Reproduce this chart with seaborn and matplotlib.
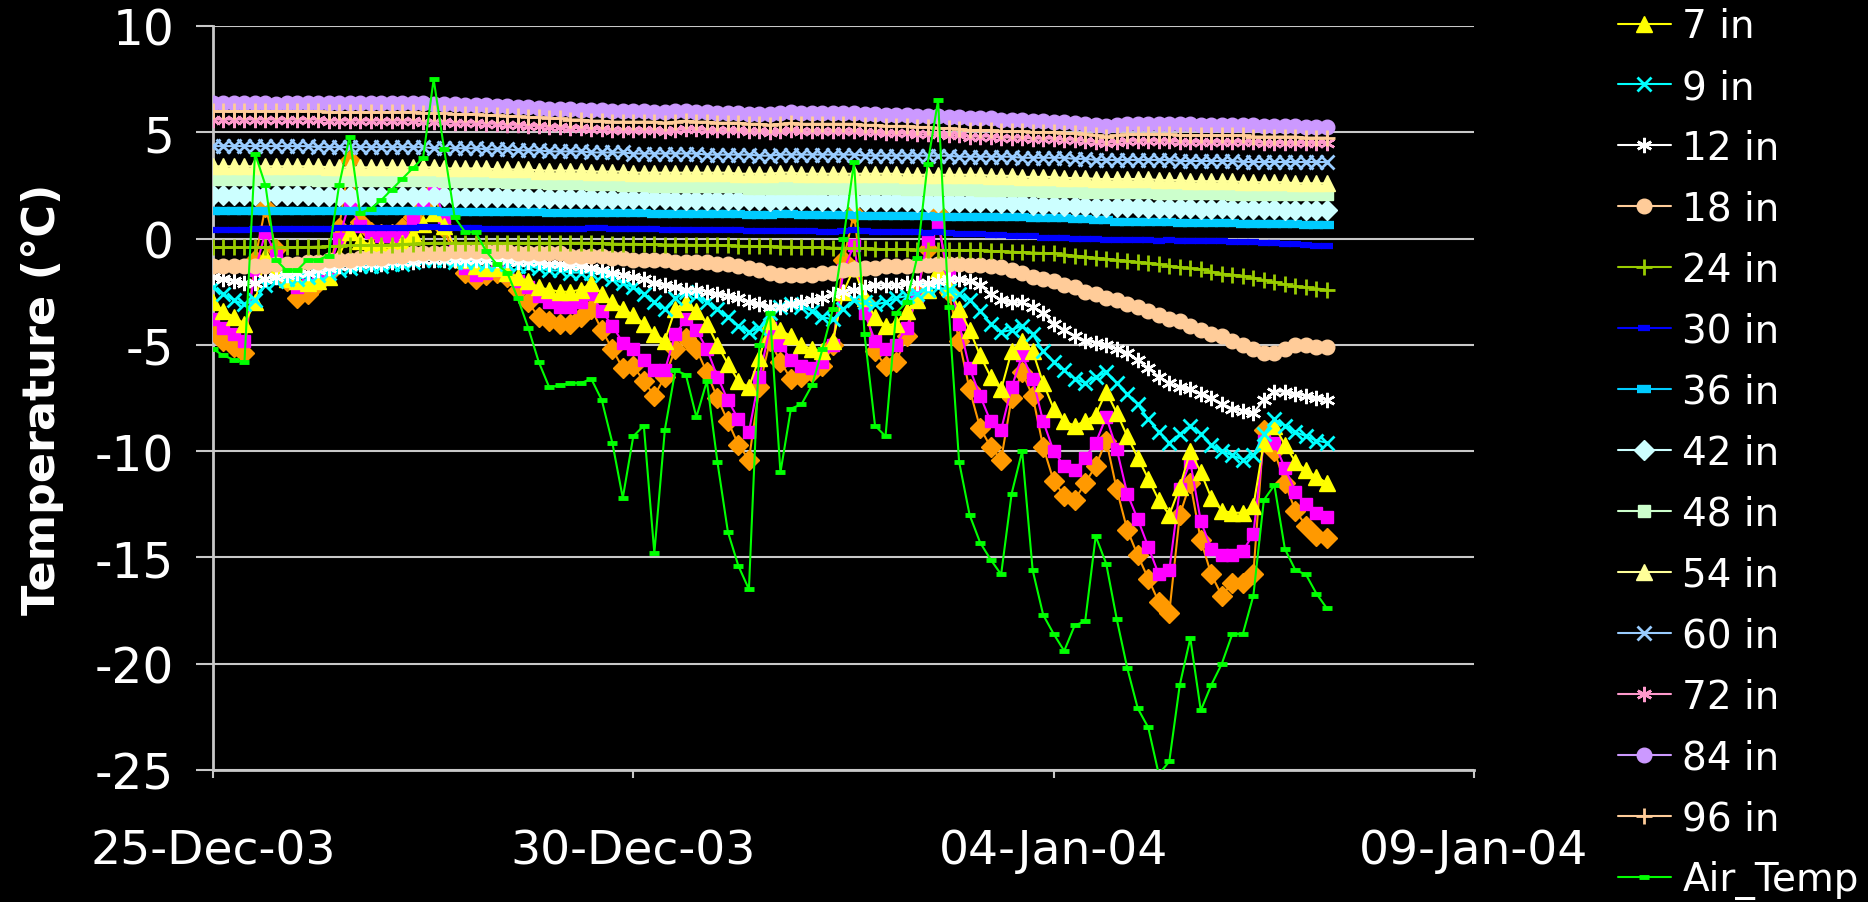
import pandas as pd
import matplotlib
matplotlib.use("Agg")
import matplotlib.pyplot as plt
import matplotlib.dates as mdates
import seaborn as sns

# 3-hourly readings, 25-Dec-03 00:00 to 07-Jan-04 06:00 (one row per day)
times = pd.date_range("2003-12-25 00:00", periods=107, freq="3h")

# top two depths (their legend entries are cut off above the picture)
d2_in = [
    -4.3, -4.8, -5.1, -5.4, -1.0, 1.5, -0.5, -2.0,
    -2.8, -2.6, -2.1, -1.6, 0.5, 3.7, 0.8, 0.3,
    0.2, 0.2, 0.5, 1.0, 1.6, 2.3, 0.5, -0.9,
    -1.6, -1.9, -1.7, -1.6, -1.8, -2.4, -3.0, -3.7,
    -3.9, -4.0, -4.0, -3.7, -3.3, -4.3, -5.2, -6.1,
    -6.0, -6.7, -7.4, -6.5, -5.2, -4.7, -5.2, -6.3,
    -7.5, -8.6, -9.7, -10.4, -7.0, -4.8, -5.8, -6.6,
    -6.5, -6.3, -6.0, -5.0, -1.0, 1.2, -3.0, -5.3,
    -6.0, -5.8, -4.6, -2.5, -0.5, 1.2, -2.5, -4.8,
    -7.1, -8.9, -9.8, -10.4, -7.5, -6.3, -7.4, -9.8,
    -11.4, -12.1, -12.3, -11.5, -10.7, -9.5, -11.8, -13.7,
    -14.9, -16.0, -17.1, -17.6, -13.0, -11.5, -14.2, -15.8,
    -16.8, -16.2, -16.2, -15.8, -9.0, -10.0, -11.5, -12.8,
    -13.5, -14.0, -14.1,
]
d4_in = [
    -3.8, -4.2, -4.5, -4.8, -1.5, 0.3, -0.8, -1.8,
    -2.3, -2.2, -1.9, -1.5, 0.0, 1.7, 0.6, 0.3,
    0.1, 0.1, 0.3, 0.9, 1.8, 2.4, 1.0, -0.6,
    -1.4, -1.7, -1.6, -1.5, -1.7, -2.0, -2.3, -2.7,
    -3.0, -3.2, -3.2, -3.0, -2.6, -3.4, -4.1, -4.9,
    -5.2, -5.7, -6.2, -6.2, -4.5, -3.8, -4.3, -5.2,
    -6.5, -7.6, -8.5, -9.1, -6.5, -4.2, -5.0, -5.7,
    -6.0, -6.1, -5.8, -5.0, -1.5, -0.3, -3.5, -4.8,
    -5.2, -5.0, -4.2, -2.7, 0.0, 0.7, -1.8, -4.0,
    -6.1, -7.4, -8.6, -9.0, -7.0, -5.5, -6.6, -8.6,
    -10.0, -10.7, -10.9, -10.3, -9.6, -8.4, -9.9, -12.0,
    -13.2, -14.5, -15.8, -15.6, -11.8, -10.5, -13.3, -14.6,
    -14.9, -14.9, -14.7, -13.9, -9.5, -9.6, -10.8, -11.9,
    -12.5, -12.9, -13.1,
]
d7_in = [
    -3.0, -3.4, -3.7, -4.0, -3.0, -0.8, -1.5, -1.9,
    -2.0, -2.1, -2.0, -1.8, -0.8, 0.3, -0.1, -0.3,
    -0.4, -0.4, -0.2, 0.2, 0.7, 1.2, 0.6, -0.4,
    -1.0, -1.3, -1.4, -1.4, -1.6, -1.8, -2.0, -2.3,
    -2.4, -2.5, -2.5, -2.4, -2.1, -2.6, -3.0, -3.3,
    -3.6, -4.0, -4.5, -4.8, -3.3, -3.0, -3.4, -4.0,
    -5.0, -5.9, -6.7, -7.0, -5.6, -3.9, -4.3, -4.6,
    -5.0, -5.2, -5.3, -4.8, -2.5, -1.4, -2.8, -3.7,
    -4.1, -4.0, -3.4, -2.9, -2.4, -1.5, -2.3, -3.3,
    -4.3, -5.5, -6.5, -7.1, -5.3, -4.8, -5.3, -6.8,
    -8.0, -8.6, -8.8, -8.6, -8.3, -7.2, -8.2, -9.3,
    -10.3, -11.3, -12.3, -13.0, -11.7, -10.0, -11.0, -12.2,
    -12.8, -12.9, -12.9, -12.6, -9.6, -8.8, -9.7, -10.5,
    -10.9, -11.2, -11.5,
]
d9_in = [
    -2.3, -2.6, -2.9, -3.1, -2.9, -2.2, -2.0, -1.9,
    -1.9, -1.8, -1.7, -1.6, -1.5, -1.4, -1.3, -1.3,
    -1.3, -1.2, -1.2, -1.1, -1.0, -1.0, -1.0, -1.1,
    -1.1, -1.1, -1.2, -1.2, -1.2, -1.3, -1.3, -1.4,
    -1.5, -1.5, -1.6, -1.6, -1.6, -1.7, -1.9, -2.1,
    -2.3, -2.6, -3.0, -3.3, -2.8, -2.5, -2.7, -3.0,
    -3.3, -3.7, -4.1, -4.4, -4.2, -3.5, -3.2, -3.1,
    -3.2, -3.4, -3.7, -3.8, -3.3, -2.9, -3.0, -3.1,
    -3.0, -2.8, -2.7, -2.6, -2.4, -2.3, -2.4, -2.6,
    -2.9, -3.4, -4.0, -4.4, -4.3, -4.1, -4.5, -5.3,
    -5.8, -6.2, -6.6, -6.8, -6.5, -6.3, -6.8, -7.3,
    -7.8, -8.5, -9.1, -9.6, -9.2, -8.8, -9.2, -9.7,
    -10.0, -10.2, -10.4, -10.2, -9.2, -8.5, -8.8, -9.1,
    -9.3, -9.5, -9.6,
]
d12_in = [
    -1.8, -1.9, -2.0, -2.1, -2.1, -1.9, -1.8, -1.7,
    -1.6, -1.6, -1.5, -1.4, -1.3, -1.3, -1.2, -1.2,
    -1.2, -1.1, -1.1, -1.1, -1.0, -1.0, -1.0, -1.0,
    -1.0, -1.0, -1.0, -1.0, -1.0, -1.1, -1.1, -1.1,
    -1.2, -1.2, -1.3, -1.3, -1.4, -1.5, -1.6, -1.7,
    -1.8, -1.9, -2.1, -2.2, -2.3, -2.4, -2.4, -2.5,
    -2.6, -2.7, -2.8, -3.0, -3.1, -3.2, -3.2, -3.1,
    -3.0, -2.9, -2.8, -2.6, -2.5, -2.4, -2.3, -2.2,
    -2.2, -2.2, -2.1, -2.1, -2.1, -2.0, -1.9, -1.9,
    -2.0, -2.2, -2.6, -2.9, -3.0, -3.0, -3.2, -3.5,
    -4.0, -4.3, -4.6, -4.8, -4.9, -5.0, -5.2, -5.4,
    -5.7, -6.1, -6.5, -6.8, -7.0, -7.1, -7.3, -7.5,
    -7.8, -8.0, -8.1, -8.2, -7.6, -7.2, -7.2, -7.3,
    -7.4, -7.5, -7.6,
]
d18_in = [
    -1.3, -1.3, -1.3, -1.3, -1.3, -1.3, -1.2, -1.2,
    -1.2, -1.1, -1.1, -1.0, -1.0, -1.0, -0.9, -0.9,
    -0.9, -0.8, -0.8, -0.7, -0.7, -0.7, -0.7, -0.6,
    -0.6, -0.6, -0.6, -0.6, -0.6, -0.7, -0.7, -0.7,
    -0.7, -0.7, -0.8, -0.8, -0.8, -0.8, -0.9, -0.9,
    -1.0, -1.0, -1.0, -1.0, -1.1, -1.1, -1.1, -1.1,
    -1.2, -1.2, -1.3, -1.4, -1.5, -1.6, -1.7, -1.7,
    -1.7, -1.7, -1.6, -1.6, -1.5, -1.45, -1.4, -1.4,
    -1.3, -1.3, -1.3, -1.25, -1.25, -1.2, -1.2, -1.2,
    -1.25, -1.25, -1.3, -1.35, -1.5, -1.6, -1.8, -1.9,
    -2.0, -2.2, -2.3, -2.5, -2.6, -2.8, -2.9, -3.1,
    -3.2, -3.4, -3.6, -3.8, -3.9, -4.1, -4.3, -4.5,
    -4.6, -4.8, -5.0, -5.2, -5.4, -5.4, -5.2, -5.0,
    -5.0, -5.1, -5.1,
]
d24_in = [
    -0.42, -0.42, -0.42, -0.42, -0.40, -0.40, -0.40, -0.40,
    -0.40, -0.40, -0.38, -0.36, -0.34, -0.32, -0.32, -0.30,
    -0.30, -0.28, -0.26, -0.24, -0.22, -0.20, -0.20, -0.20,
    -0.20, -0.20, -0.20, -0.20, -0.20, -0.20, -0.20, -0.20,
    -0.20, -0.20, -0.20, -0.20, -0.20, -0.22, -0.24, -0.25,
    -0.25, -0.26, -0.27, -0.28, -0.28, -0.29, -0.30, -0.30,
    -0.30, -0.32, -0.34, -0.35, -0.36, -0.37, -0.38, -0.39,
    -0.40, -0.41, -0.42, -0.43, -0.44, -0.45, -0.46, -0.48,
    -0.50, -0.50, -0.51, -0.52, -0.52, -0.53, -0.54, -0.55,
    -0.55, -0.56, -0.58, -0.60, -0.62, -0.64, -0.66, -0.68,
    -0.70, -0.75, -0.80, -0.85, -0.90, -0.95, -1.00, -1.05,
    -1.10, -1.15, -1.20, -1.30, -1.35, -1.40, -1.45, -1.55,
    -1.65, -1.70, -1.75, -1.85, -1.95, -2.05, -2.15, -2.25,
    -2.30, -2.35, -2.40,
]
d30_in = [
    0.42, 0.42, 0.42, 0.42, 0.45, 0.45, 0.45, 0.45,
    0.45, 0.45, 0.45, 0.45, 0.50, 0.50, 0.50, 0.50,
    0.50, 0.50, 0.50, 0.50, 0.55, 0.55, 0.50, 0.50,
    0.50, 0.50, 0.45, 0.45, 0.45, 0.45, 0.45, 0.45,
    0.45, 0.45, 0.45, 0.45, 0.50, 0.50, 0.45, 0.45,
    0.45, 0.45, 0.45, 0.40, 0.40, 0.40, 0.40, 0.40,
    0.40, 0.40, 0.40, 0.35, 0.35, 0.35, 0.35, 0.35,
    0.35, 0.35, 0.30, 0.30, 0.35, 0.40, 0.35, 0.30,
    0.30, 0.30, 0.30, 0.30, 0.25, 0.30, 0.25, 0.20,
    0.20, 0.20, 0.15, 0.15, 0.10, 0.10, 0.10, 0.05,
    0.05, 0.05, 0.00, 0.00, 0.00, -0.05, -0.05, -0.05,
    -0.05, -0.05, -0.10, -0.05, -0.10, -0.10, -0.10, -0.10,
    -0.10, -0.15, -0.15, -0.15, -0.20, -0.20, -0.25, -0.25,
    -0.30, -0.35, -0.37,
]
d36_in = [
    1.30, 1.30, 1.30, 1.30, 1.30, 1.30, 1.30, 1.30,
    1.30, 1.30, 1.30, 1.30, 1.30, 1.30, 1.30, 1.30,
    1.30, 1.30, 1.30, 1.30, 1.30, 1.30, 1.25, 1.25,
    1.25, 1.25, 1.25, 1.25, 1.25, 1.25, 1.25, 1.25,
    1.20, 1.20, 1.20, 1.20, 1.20, 1.20, 1.20, 1.20,
    1.20, 1.20, 1.15, 1.15, 1.15, 1.15, 1.15, 1.15,
    1.15, 1.15, 1.15, 1.10, 1.10, 1.10, 1.15, 1.15,
    1.10, 1.10, 1.10, 1.10, 1.10, 1.10, 1.05, 1.05,
    1.05, 1.05, 1.05, 1.05, 1.05, 1.00, 1.00, 1.00,
    1.00, 1.00, 1.00, 1.00, 1.00, 1.00, 0.95, 0.95,
    0.95, 0.95, 0.90, 0.90, 0.85, 0.85, 0.80, 0.80,
    0.80, 0.80, 0.80, 0.80, 0.75, 0.75, 0.75, 0.75,
    0.75, 0.75, 0.70, 0.70, 0.70, 0.70, 0.70, 0.70,
    0.65, 0.65, 0.65,
]
d42_in = [
    2.05, 2.05, 2.05, 2.05, 2.05, 2.05, 2.05, 2.05,
    2.05, 2.05, 2.00, 2.00, 2.00, 2.00, 2.00, 2.00,
    2.00, 2.00, 2.00, 2.00, 2.00, 2.00, 2.00, 1.95,
    1.95, 1.95, 1.95, 1.95, 1.95, 1.95, 1.90, 1.90,
    1.90, 1.90, 1.90, 1.90, 1.90, 1.85, 1.85, 1.85,
    1.85, 1.85, 1.85, 1.85, 1.80, 1.80, 1.80, 1.80,
    1.80, 1.80, 1.80, 1.80, 1.80, 1.75, 1.80, 1.80,
    1.80, 1.80, 1.75, 1.75, 1.75, 1.75, 1.75, 1.75,
    1.75, 1.75, 1.75, 1.70, 1.70, 1.70, 1.70, 1.70,
    1.70, 1.70, 1.70, 1.65, 1.65, 1.65, 1.60, 1.60,
    1.60, 1.55, 1.55, 1.55, 1.50, 1.50, 1.50, 1.50,
    1.50, 1.45, 1.45, 1.45, 1.45, 1.45, 1.40, 1.40,
    1.45, 1.40, 1.40, 1.40, 1.40, 1.40, 1.35, 1.35,
    1.35, 1.35, 1.35,
]
d48_in = [
    2.80, 2.80, 2.80, 2.80, 2.80, 2.80, 2.80, 2.80,
    2.80, 2.80, 2.75, 2.75, 2.75, 2.75, 2.75, 2.75,
    2.75, 2.75, 2.75, 2.75, 2.75, 2.75, 2.70, 2.70,
    2.70, 2.70, 2.70, 2.70, 2.65, 2.65, 2.65, 2.65,
    2.60, 2.60, 2.60, 2.60, 2.55, 2.55, 2.55, 2.50,
    2.50, 2.50, 2.45, 2.45, 2.45, 2.45, 2.45, 2.45,
    2.45, 2.45, 2.45, 2.40, 2.40, 2.40, 2.40, 2.40,
    2.40, 2.40, 2.40, 2.40, 2.40, 2.40, 2.40, 2.40,
    2.40, 2.40, 2.35, 2.35, 2.35, 2.35, 2.35, 2.35,
    2.35, 2.30, 2.30, 2.30, 2.30, 2.30, 2.30, 2.25,
    2.25, 2.25, 2.25, 2.20, 2.20, 2.20, 2.20, 2.20,
    2.20, 2.20, 2.15, 2.15, 2.15, 2.15, 2.15, 2.15,
    2.15, 2.10, 2.10, 2.10, 2.10, 2.10, 2.10, 2.10,
    2.10, 2.10, 2.10,
]
d54_in = [
    3.40, 3.40, 3.40, 3.40, 3.40, 3.40, 3.40, 3.40,
    3.40, 3.40, 3.40, 3.35, 3.35, 3.35, 3.35, 3.35,
    3.35, 3.35, 3.35, 3.35, 3.35, 3.35, 3.30, 3.30,
    3.30, 3.30, 3.30, 3.25, 3.25, 3.25, 3.25, 3.20,
    3.20, 3.20, 3.20, 3.20, 3.15, 3.15, 3.15, 3.15,
    3.10, 3.10, 3.10, 3.10, 3.10, 3.10, 3.10, 3.10,
    3.10, 3.10, 3.05, 3.05, 3.05, 3.05, 3.10, 3.10,
    3.05, 3.05, 3.05, 3.05, 3.05, 3.05, 3.05, 3.05,
    3.05, 3.05, 3.00, 3.00, 3.00, 3.00, 3.00, 3.00,
    3.00, 3.00, 2.95, 2.95, 2.95, 2.90, 2.90, 2.90,
    2.90, 2.85, 2.85, 2.85, 2.80, 2.80, 2.80, 2.80,
    2.80, 2.80, 2.75, 2.75, 2.75, 2.70, 2.70, 2.70,
    2.70, 2.70, 2.65, 2.65, 2.65, 2.65, 2.65, 2.60,
    2.60, 2.60, 2.60,
]
d60_in = [
    4.35, 4.35, 4.35, 4.35, 4.35, 4.35, 4.35, 4.35,
    4.35, 4.35, 4.30, 4.30, 4.30, 4.30, 4.30, 4.30,
    4.30, 4.30, 4.30, 4.30, 4.30, 4.25, 4.25, 4.25,
    4.25, 4.25, 4.20, 4.20, 4.20, 4.15, 4.15, 4.15,
    4.10, 4.10, 4.10, 4.10, 4.05, 4.05, 4.05, 4.05,
    4.00, 4.00, 4.00, 4.00, 4.00, 4.00, 4.00, 3.95,
    3.95, 3.95, 3.95, 3.95, 3.90, 3.90, 3.95, 3.95,
    3.95, 3.95, 3.95, 3.95, 3.95, 3.95, 3.90, 3.90,
    3.90, 3.90, 3.90, 3.90, 3.90, 3.90, 3.90, 3.85,
    3.85, 3.85, 3.85, 3.85, 3.85, 3.80, 3.80, 3.80,
    3.80, 3.80, 3.75, 3.75, 3.70, 3.70, 3.70, 3.70,
    3.70, 3.70, 3.70, 3.70, 3.65, 3.65, 3.65, 3.65,
    3.65, 3.65, 3.60, 3.60, 3.60, 3.60, 3.60, 3.60,
    3.60, 3.60, 3.60,
]
d72_in = [
    5.60, 5.60, 5.60, 5.60, 5.60, 5.60, 5.60, 5.60,
    5.60, 5.60, 5.60, 5.55, 5.55, 5.55, 5.55, 5.55,
    5.55, 5.55, 5.55, 5.55, 5.50, 5.50, 5.50, 5.45,
    5.45, 5.45, 5.40, 5.40, 5.35, 5.35, 5.30, 5.30,
    5.25, 5.25, 5.20, 5.20, 5.15, 5.15, 5.10, 5.10,
    5.10, 5.10, 5.10, 5.05, 5.10, 5.15, 5.15, 5.10,
    5.10, 5.10, 5.10, 5.05, 5.05, 5.00, 5.05, 5.10,
    5.05, 5.05, 5.05, 5.05, 5.05, 5.05, 5.00, 5.00,
    4.95, 4.95, 4.95, 4.90, 4.90, 4.90, 4.85, 4.85,
    4.80, 4.80, 4.80, 4.75, 4.75, 4.75, 4.70, 4.70,
    4.70, 4.65, 4.65, 4.60, 4.55, 4.50, 4.55, 4.60,
    4.60, 4.60, 4.60, 4.60, 4.55, 4.55, 4.55, 4.55,
    4.55, 4.55, 4.55, 4.55, 4.50, 4.50, 4.50, 4.50,
    4.50, 4.50, 4.50,
]
d84_in = [
    6.40, 6.40, 6.40, 6.40, 6.40, 6.40, 6.35, 6.40,
    6.40, 6.40, 6.40, 6.40, 6.40, 6.40, 6.40, 6.40,
    6.40, 6.40, 6.40, 6.40, 6.40, 6.35, 6.35, 6.35,
    6.30, 6.30, 6.30, 6.25, 6.25, 6.20, 6.20, 6.15,
    6.10, 6.10, 6.10, 6.05, 6.05, 6.05, 6.00, 6.00,
    6.00, 6.00, 5.95, 5.95, 6.00, 6.00, 5.95, 5.95,
    5.90, 5.90, 5.90, 5.85, 5.85, 5.85, 5.90, 5.95,
    5.90, 5.90, 5.90, 5.90, 5.90, 5.90, 5.85, 5.85,
    5.80, 5.80, 5.80, 5.75, 5.75, 5.75, 5.70, 5.70,
    5.65, 5.65, 5.65, 5.60, 5.60, 5.60, 5.55, 5.55,
    5.50, 5.50, 5.45, 5.40, 5.35, 5.30, 5.35, 5.40,
    5.40, 5.40, 5.40, 5.40, 5.40, 5.40, 5.35, 5.35,
    5.35, 5.35, 5.35, 5.35, 5.30, 5.30, 5.30, 5.30,
    5.25, 5.25, 5.25,
]
d96_in = [
    6.00, 6.00, 6.00, 6.00, 6.00, 6.00, 6.00, 6.00,
    6.00, 6.00, 6.00, 5.95, 5.95, 5.95, 5.95, 5.95,
    5.95, 5.95, 5.95, 5.95, 5.90, 5.90, 5.90, 5.85,
    5.85, 5.85, 5.80, 5.80, 5.75, 5.75, 5.70, 5.70,
    5.65, 5.65, 5.60, 5.60, 5.55, 5.55, 5.50, 5.50,
    5.50, 5.50, 5.50, 5.45, 5.50, 5.55, 5.50, 5.50,
    5.45, 5.45, 5.45, 5.40, 5.40, 5.35, 5.40, 5.45,
    5.40, 5.40, 5.40, 5.40, 5.40, 5.40, 5.35, 5.35,
    5.30, 5.30, 5.30, 5.25, 5.25, 5.20, 5.20, 5.15,
    5.10, 5.10, 5.10, 5.05, 5.05, 5.05, 5.00, 5.00,
    5.00, 4.95, 4.95, 4.90, 4.85, 4.80, 4.85, 4.90,
    4.90, 4.90, 4.90, 4.90, 4.85, 4.85, 4.85, 4.85,
    4.85, 4.85, 4.85, 4.80, 4.80, 4.80, 4.80, 4.80,
    4.75, 4.75, 4.75,
]
air_temp = [
    -5.2, -5.5, -5.7, -5.8, 4.0, 2.5, -1.0, -1.5,
    -1.5, -1.0, -1.0, -0.8, 2.5, 4.8, 1.2, 1.4,
    1.8, 2.3, 2.8, 3.3, 3.8, 7.5, 4.2, 1.0,
    0.3, 0.3, -0.6, -1.2, -1.6, -2.8, -4.2, -5.8,
    -7.0, -6.9, -6.8, -6.8, -6.6, -7.6, -9.6, -12.2,
    -9.3, -8.8, -14.8, -9.0, -6.2, -6.4, -8.4, -6.7,
    -10.5, -13.8, -15.4, -16.5, -5.0, -3.5, -11.0, -8.0,
    -7.8, -6.9, -5.2, -3.3, 0.0, 3.6, -4.5, -8.8,
    -9.3, -3.5, -3.0, -0.9, 3.5, 6.5, -3.2, -10.5,
    -13.0, -14.3, -15.1, -15.8, -12.0, -10.0, -15.6, -17.7,
    -18.6, -19.4, -18.2, -18.0, -14.0, -15.3, -17.9, -20.2,
    -22.1, -23.0, -25.2, -24.6, -21.0, -18.8, -22.2, -21.0,
    -20.0, -18.6, -18.6, -16.8, -12.3, -11.6, -14.6, -15.6,
    -15.8, -16.7, -17.4,
]

labels = ["2 in", "4 in", "7 in", "9 in", "12 in", "18 in", "24 in", "30 in",
          "36 in", "42 in", "48 in", "54 in", "60 in", "72 in", "84 in",
          "96 in", "Air_Temp"]
values = [d2_in, d4_in, d7_in, d9_in, d12_in, d18_in, d24_in, d30_in,
          d36_in, d42_in, d48_in, d54_in, d60_in, d72_in, d84_in,
          d96_in, air_temp]
hidden = ["2 in", "4 in"]

# Excel-like look: colour, marker, marker size, marker edge width
star = (6, 2, 0)
styles = {
    "2 in": ("#FF9900", "D", 10, 1),
    "4 in": ("#FF00FF", "s", 9, 1),
    "7 in": ("#FFFF00", "^", 11, 1),
    "9 in": ("#00FFFF", "x", 10, 2),
    "12 in": ("#FFFFFF", star, 11, 1.8),
    "18 in": ("#FFCC99", "o", 10.5, 1),
    "24 in": ("#99CC00", "+", 11, 2),
    "30 in": ("#0000FF", "_", 9, 4.5),
    "36 in": ("#00CCFF", "_", 10, 6),
    "42 in": ("#CCFFFF", "D", 10, 1),
    "48 in": ("#CCFFCC", "s", 9, 1),
    "54 in": ("#FFFF99", "^", 11, 1),
    "60 in": ("#99CCFF", "x", 10, 2),
    "72 in": ("#FF99CC", star, 11, 1.8),
    "84 in": ("#CC99FF", "o", 10.5, 1),
    "96 in": ("#FFCC99", "+", 11, 2),
    "Air_Temp": ("#00FF00", "_", 7, 3.5),
}

sns.set_theme(style="dark", rc={
    "figure.facecolor": "black",
    "axes.facecolor": "black",
    "savefig.facecolor": "black",
    "text.color": "white",
    "axes.labelcolor": "white",
    "xtick.color": "white",
    "ytick.color": "white",
})
plt.rcParams["font.family"] = ["DejaVu Sans"]
plt.rcParams["axes.unicode_minus"] = False

fig = plt.figure(figsize=(18.68, 9.03), dpi=100)
ax = fig.add_axes([0.114, 0.1462, 0.6751, 0.8239])

for i, (lab, vals) in enumerate(zip(labels, values)):
    col, mk, ms, mew = styles[lab]
    sns.lineplot(x=times, y=vals, ax=ax, color=col, marker=mk, markersize=ms,
                 markeredgewidth=mew, markeredgecolor=col, markerfacecolor=col,
                 linewidth=1.5, label=lab, legend=False, zorder=3 + i)

ax.set_xlim(pd.Timestamp("2003-12-25"), pd.Timestamp("2004-01-09"))
ax.set_ylim(-25, 10)
ax.set_yticks(range(-25, 11, 5))
ax.set_xticks(pd.to_datetime(["2003-12-25", "2003-12-30", "2004-01-04", "2004-01-09"]))
ax.xaxis.set_major_formatter(mdates.DateFormatter("%d-%b-%y"))

ax.grid(axis="y", color="#c8c8c8", linewidth=1.5)
ax.grid(axis="x", visible=False)
for side in ["top", "right"]:
    ax.spines[side].set_visible(False)
for side in ["left", "bottom"]:
    ax.spines[side].set_visible(True)
    ax.spines[side].set_color("#c8c8c8")
    ax.spines[side].set_linewidth(2)

ax.tick_params(axis="y", direction="out", length=12, width=1.5, color="#c8c8c8",
               pad=16, labelsize=35, labelcolor="white", left=True)
ax.tick_params(axis="x", direction="out", length=6, width=1.5, color="#c8c8c8",
               pad=36, labelsize=34, labelcolor="white", bottom=True)

ax.set_xlabel("")
ax.set_ylabel("Temperature (°C)", fontsize=32, fontweight="bold", labelpad=22)

# legend: the two shallowest entries sit above the top edge in the original
handles, labs = ax.get_legend_handles_labels()
keep = [(h, l) for h, l in zip(handles, labs) if l not in hidden]
leg = fig.legend([h for h, _ in keep], [l for _, l in keep],
                 loc="upper left", bbox_to_anchor=(0.8662, 0.991),
                 bbox_transform=fig.transFigure, frameon=False,
                 fontsize=28, handlelength=1.35, handletextpad=0.3,
                 labelspacing=0.59, borderpad=0, borderaxespad=0)
for t in leg.get_texts():
    t.set_color("white")

fig.savefig("out.png", dpi=100, facecolor="black")
